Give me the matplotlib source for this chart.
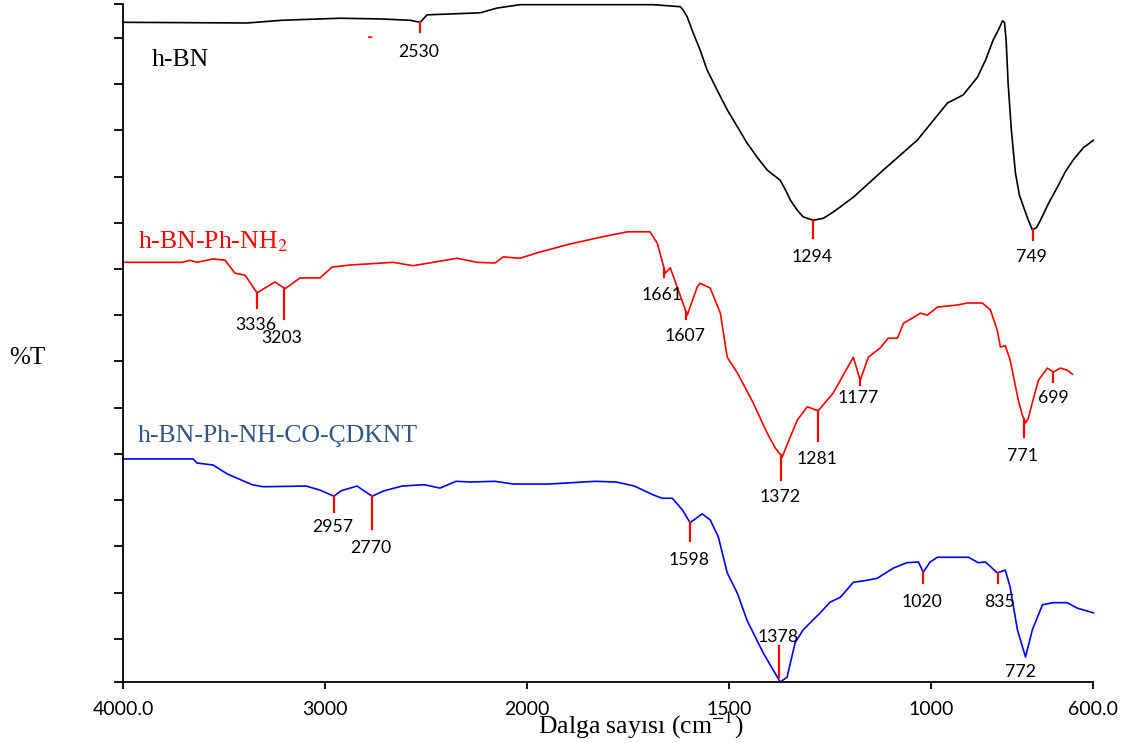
import numpy as np
import matplotlib
matplotlib.use("Agg")
import matplotlib.pyplot as plt

# FTIR spectra (wavenumber in cm-1, %T in arbitrary offset units)
wn_bn = [4000, 3386, 3213, 2926, 2728, 2579, 2530, 2495, 2406, 2233, 2149, 2035,
         1918, 1688, 1621, 1614, 1604, 1589, 1572, 1555, 1530, 1505, 1480, 1456,
         1431, 1406, 1374, 1361, 1349, 1332, 1317, 1292, 1267, 1243, 1193, 1119,
         1035, 960, 921, 886, 866, 847, 834, 824, 819, 815, 810, 802, 792, 782,
         772, 760, 750, 740, 730, 710, 688, 669, 649, 624, 599]
t_bn = [97.3, 97.2, 97.6, 97.9, 97.8, 97.6, 97.3, 98.4, 98.5, 98.7, 99.4, 99.9,
        99.9, 99.9, 99.6, 99.1, 98.1, 95.7, 93.2, 90.3, 87.3, 84.4, 81.9, 79.5,
        77.4, 75.5, 74.0, 72.6, 71.1, 69.6, 68.6, 68.1, 68.4, 69.3, 71.5, 75.5,
        79.9, 85.4, 86.6, 89.2, 91.7, 94.7, 96.2, 97.5, 97.3, 94.7, 88.3, 81.4, 75.1, 71.8,
        70.1, 68.1, 66.7, 67.0, 68.1, 70.6, 73.0, 75.2, 77.0, 78.8, 79.9]

wn_nh2 = [4000, 3708, 3668, 3634, 3554, 3495, 3446, 3396, 3337, 3248, 3198, 3124,
          3025, 2965, 2876, 2664, 2565, 2465, 2347, 2248, 2159, 2119, 2035, 1975,
          1901, 1819, 1752, 1696, 1678, 1658, 1646, 1629, 1604, 1579, 1572, 1547,
          1522, 1505, 1480, 1441, 1406, 1386, 1369, 1352, 1332, 1307, 1280, 1243,
          1193, 1176, 1156, 1126, 1107, 1084, 1069, 1027, 1010, 985, 936, 911, 874,
          854, 837, 829, 817, 805, 785, 775, 767, 760, 755, 735, 713, 698, 681, 664, 651]
t_nh2 = [61.9, 61.9, 62.2, 61.9, 62.4, 62.2, 60.3, 60.0, 57.4, 59.0, 58.0, 59.6,
         59.6, 61.2, 61.5, 61.9, 61.4, 61.9, 62.5, 61.9, 61.8, 62.7, 62.5, 63.3,
         64.5, 65.6, 66.4, 66.4, 64.7, 60.3, 61.1, 58.3, 54.1, 58.3, 58.8, 58.1,
         54.4, 47.9, 45.6, 41.2, 36.7, 34.5, 33.2, 35.7, 38.6, 40.6, 40.0, 42.6,
         47.9, 44.5, 47.9, 49.3, 50.7, 50.7, 52.9, 54.4, 54.1, 55.3, 55.6, 55.9, 55.9,
         54.9, 51.9, 49.4, 49.6, 47.5, 41.6, 39.4, 38.2, 38.9, 40.1, 44.5, 46.3, 45.7,
         46.3, 46.0, 45.4]

wn_cnt = [4000, 3653, 3634, 3554, 3485, 3361, 3307, 3094, 3025, 2956, 2921, 2842,
          2767, 2708, 2619, 2510, 2431, 2352, 2282, 2159, 2069, 1946, 1832, 1780,
          1735, 1688, 1666, 1641, 1616, 1597, 1567, 1547, 1527, 1505, 1480, 1456,
          1416, 1374, 1357, 1337, 1317, 1275, 1250, 1225, 1193, 1159, 1134, 1094,
          1060, 1032, 1020, 1003, 985, 936, 908, 884, 866, 837, 817, 805, 787, 767,
          750, 725, 698, 664, 639, 599]
t_cnt = [32.9, 32.9, 32.3, 32.0, 30.7, 29.1, 28.8, 28.9, 28.3, 27.4, 28.2, 28.9,
         27.4, 28.2, 28.9, 29.1, 28.6, 29.6, 29.5, 29.6, 29.2, 29.2, 29.6, 29.5,
         28.9, 27.6, 27.1, 27.1, 25.4, 23.5, 24.8, 23.9, 21.4, 16.1, 13.1, 9.1,
         4.3, 0.0, 0.7, 5.8, 7.7, 10.2, 11.8, 12.5, 14.7, 15.0, 15.3, 16.8,
         17.6, 17.7, 16.2, 17.7, 18.4, 18.4, 18.4, 17.6, 17.7, 16.1, 16.5, 14.0, 7.7, 3.7,
         7.7, 11.4, 11.7, 11.7, 10.9, 10.2]

peaks_bn = [2530, 1294, 749]
peaks_nh2 = [3336, 3203, 1661, 1607, 1372, 1281, 1177, 771, 699]
peaks_cnt = [2957, 2770, 1598, 1378, 1020, 835, 772]

names = ["h-BN", "h-BN-Ph-NH$_2$", "h-BN-Ph-NH-CO-ÇDKNT"]
xticks = [4000, 3000, 2000, 1500, 1000, 600]
xticklabels = ["4000.0", "3000", "2000", "1500", "1000", "600.0"]
stray_mark = (2777, 95.1)

# layout of peak marks: (line start px, line end px, label dx px, label dy px)
marks_bn = [(0, -10, -1, -30), (0, -18, -1, -37), (0, -10, -1, -27)]
marks_nh2 = [(0, -15, -1, -32), (0, -31, -2, -50), (0, -8, -2, -26), (0, -7, -1, -24),
             (0, -25, -1, -42), (0, -30, -1, -48), (0, -6, -2, -19), (0, -18, -1, -37),
             (0, -10, 0, -26)]
marks_cnt = [(0, -16, -1, -31), (0, -33, -1, -52), (0, -19, -1, -38), (2, 33, 0, 42),
             (0, -11, -1, -30), (0, -10, 1, -29), (None, None, -3, -22)]


def fwd(x):
    x = np.asarray(x, dtype=float)
    return np.where(x >= 2000, x / 1000.0, 2 - (2000 - x) / 500.0)


def inv(u):
    u = np.asarray(u, dtype=float)
    return np.where(u >= 2, u * 1000.0, 2000 - (2 - u) * 500.0)


plt.rcParams['mathtext.fontset'] = 'stix'
fig = plt.figure(figsize=(11.26, 7.43), dpi=100)
ax = fig.add_axes([123 / 1126, 61 / 743, 970 / 1126, 678 / 743])
ax.set_xscale('function', functions=(fwd, inv))
ax.set_xlim(4000, 600)
ax.set_ylim(0, 100)
px = 100 / 678  # y data units per pixel

series = [(wn_bn, t_bn, 'black', peaks_bn, marks_bn),
          (wn_nh2, t_nh2, 'red', peaks_nh2, marks_nh2),
          (wn_cnt, t_cnt, '#0000ff', peaks_cnt, marks_cnt)]

for wn, t, col, peaks, marks in series:
    ax.plot(wn, t, color=col, lw=1.2, clip_on=False)
    wn_r, t_r = np.array(wn)[::-1], np.array(t)[::-1]
    for p, (l0, l1, dx, dy) in zip(peaks, marks):
        yv = np.interp(p, wn_r, t_r)
        if l0 is not None:
            ax.plot([p, p], [yv + l0 * px, yv + l1 * px], color='red', lw=1.6,
                    clip_on=False)
        ax.annotate(str(p), xy=(p, yv), xytext=(dx, dy), textcoords='offset pixels',
                    ha='center', va='center', fontsize=12.7, family='Lato')

ax.text(stray_mark[0], stray_mark[1], '-', color='red', ha='center', va='center',
        fontsize=12, family='Lato', fontweight='bold')

name_cols = ['black', 'red', '#2f5586']
name_pos = [(152, 66), (138, 248), (138, 442)]
for nm, c, (x0, y0) in zip(names, name_cols, name_pos):
    ax.text((x0 - 123) / 970, (682 - y0) / 678, nm, transform=ax.transAxes,
            color=c, fontsize=18.5, family='Liberation Serif', va='baseline')

ax.spines['top'].set_visible(False)
ax.spines['right'].set_visible(False)
for s in ['left', 'bottom']:
    ax.spines[s].set_linewidth(1.3)

ax.set_xticks(xticks)
ax.set_xticklabels(xticklabels, family='Lato', fontsize=14)
ax.xaxis.set_minor_locator(plt.NullLocator())
ax.set_yticks(np.r_[0, np.linspace(6.37, 94.99, 14), 100])
ax.set_yticklabels([])
ax.tick_params(axis='y', direction='out', length=6.5, width=1.3)
ax.tick_params(axis='x', direction='out', length=5, width=1.3, pad=9)

ax.set_xlabel('Dalga sayısı (cm$^{-1}$)', family='Liberation Serif', fontsize=18.5,
              va='center')
ax.xaxis.set_label_coords((641 - 123) / 970, (682 - 725) / 678)
ax.set_ylabel('%T', family='Liberation Serif', fontsize=18, rotation=0,
              va='center', ha='center')
ax.yaxis.set_label_coords((27 - 123) / 970, (682 - 358) / 678)

fig.savefig('out.png', dpi=100)
